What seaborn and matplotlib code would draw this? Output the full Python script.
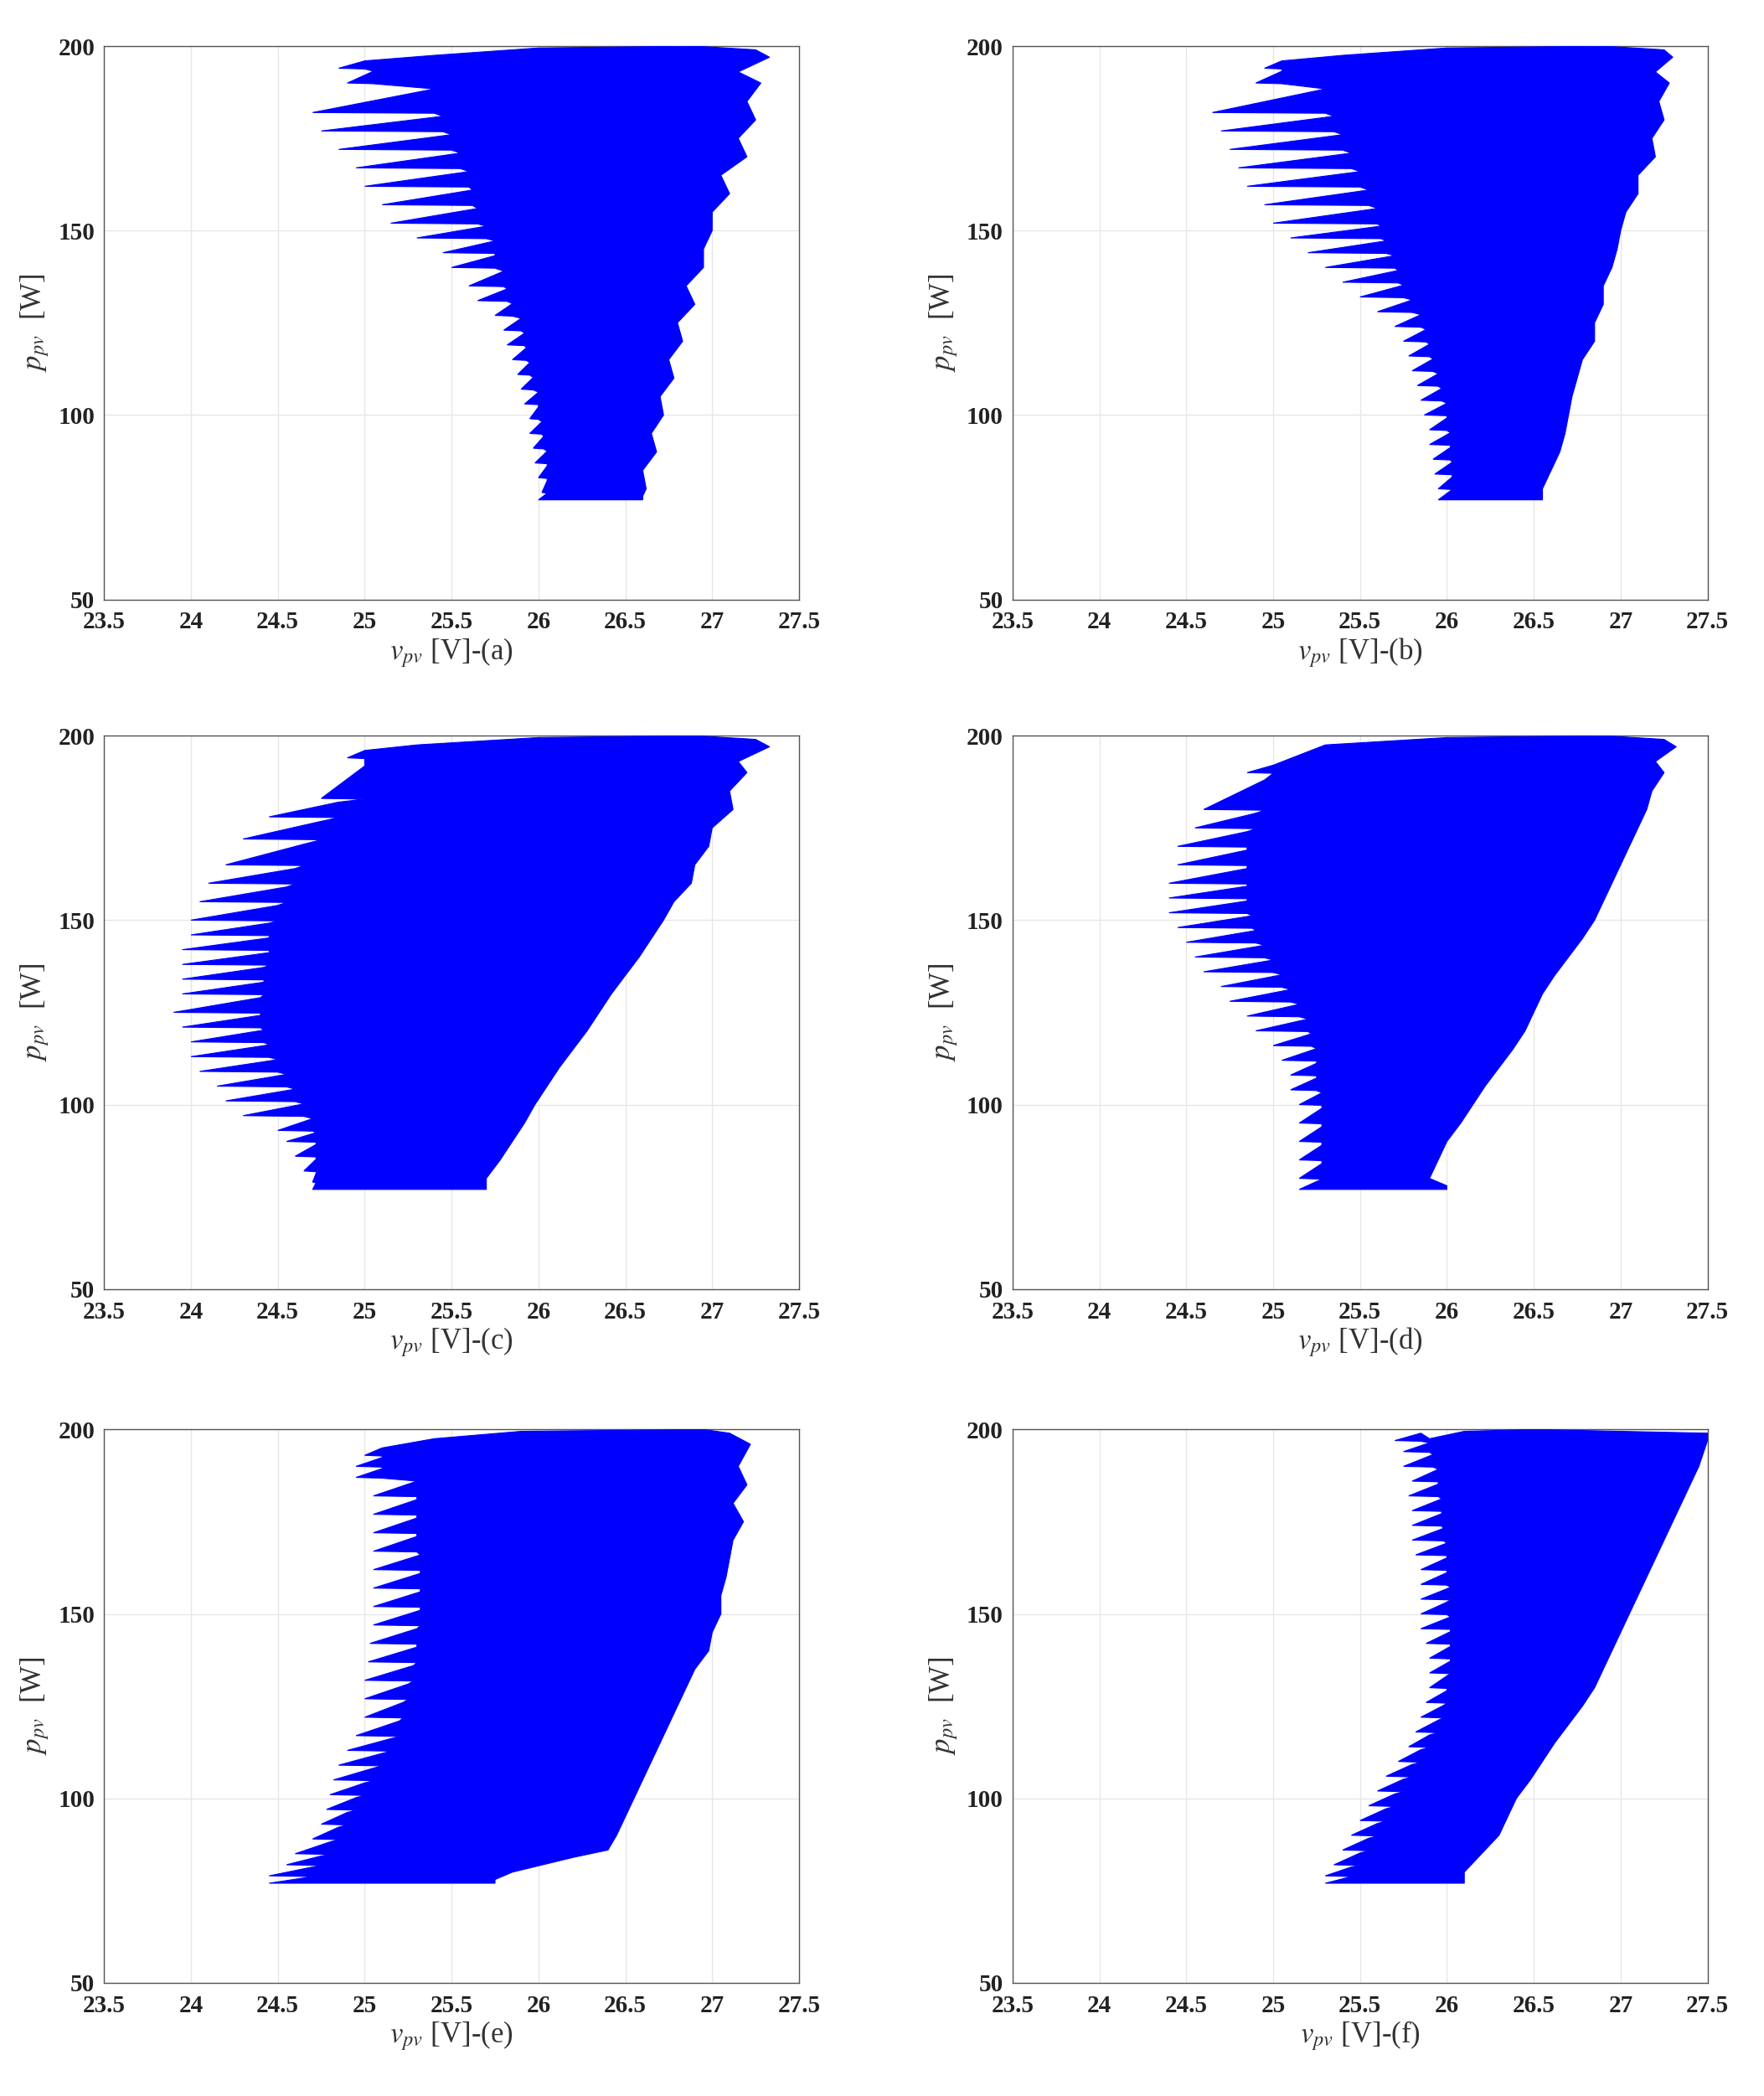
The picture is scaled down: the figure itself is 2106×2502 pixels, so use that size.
import numpy as np
import matplotlib
matplotlib.use("Agg")
import matplotlib.pyplot as plt
import seaborn as sns

sns.set_style("whitegrid")
plt.rcParams['font.family'] = ['Liberation Serif', 'DejaVu Serif']
plt.rcParams['mathtext.fontset'] = 'stix'

# ---- data: left-edge teeth (power, tip voltage, notch voltage), right edge (power, voltage), bottom span, top-left shoulder ----
a_lp = [194, 190, 182, 177, 172, 167, 162, 157, 152, 148, 144, 140, 135, 131, 127, 123, 119, 115, 111, 107, 103, 99, 95, 91, 87, 83, 79]
a_lt = [24.85, 24.9, 24.7, 24.75, 24.85, 24.95, 25.0, 25.1, 25.15, 25.3, 25.45, 25.5, 25.6, 25.65, 25.75, 25.8, 25.82, 25.85, 25.88, 25.9, 25.92, 25.95, 25.95, 25.97, 25.98, 26.0, 26.02]
a_ln = [25.0, 25.05, 25.4, 25.45, 25.5, 25.55, 25.6, 25.62, 25.65, 25.7, 25.75, 25.75, 25.8, 25.82, 25.85, 25.9, 25.92, 25.93, 25.95, 25.97, 26.0, 26.0, 26.02, 26.03, 26.05, 26.05, 26.05]
a_rp = [200, 199, 197, 193, 190, 185, 180, 175, 170, 165, 160, 155, 150, 145, 140, 135, 130, 125, 120, 115, 110, 105, 100, 95, 90, 85, 80, 78]
a_rx = [26.9, 27.25, 27.33, 27.15, 27.28, 27.2, 27.25, 27.15, 27.2, 27.05, 27.1, 27.0, 27.0, 26.95, 26.95, 26.85, 26.9, 26.8, 26.83, 26.75, 26.78, 26.7, 26.72, 26.65, 26.68, 26.6, 26.62, 26.6]
a_bot = [26.0, 26.6]
a_top = [25.4, 26.0]

b_lp = [194, 190, 182, 177, 172, 167, 162, 157, 152, 148, 144, 140, 136, 132, 128, 124, 120, 116, 112, 108, 104, 100, 96, 92, 88, 84, 80]
b_lt = [24.95, 24.9, 24.65, 24.7, 24.75, 24.8, 24.85, 24.95, 25.0, 25.1, 25.2, 25.3, 25.4, 25.5, 25.6, 25.7, 25.75, 25.78, 25.8, 25.83, 25.85, 25.87, 25.9, 25.9, 25.92, 25.93, 25.95]
b_ln = [25.05, 25.05, 25.3, 25.35, 25.4, 25.45, 25.5, 25.55, 25.6, 25.62, 25.65, 25.7, 25.72, 25.75, 25.8, 25.85, 25.88, 25.9, 25.92, 25.95, 25.97, 26.0, 26.0, 26.02, 26.02, 26.03, 26.03]
b_rp = [200, 199, 197, 193, 190, 185, 180, 175, 170, 165, 160, 155, 150, 145, 140, 135, 130, 125, 120, 115, 110, 105, 100, 95, 90, 85, 80, 78]
b_rx = [26.9, 27.25, 27.3, 27.2, 27.28, 27.22, 27.25, 27.18, 27.2, 27.1, 27.1, 27.03, 27.0, 26.98, 26.95, 26.9, 26.9, 26.85, 26.85, 26.78, 26.75, 26.72, 26.7, 26.68, 26.65, 26.6, 26.55, 26.55]
b_bot = [25.95, 26.55]
b_top = [25.4, 26.0]

c_lp = [194, 183, 178, 172, 165, 160, 155, 150, 146, 142, 138, 134, 130, 125, 121, 117, 113, 109, 105, 101, 97, 93, 90, 86, 82, 79]
c_lt = [24.9, 24.75, 24.45, 24.3, 24.2, 24.1, 24.05, 24.0, 24.0, 23.95, 23.95, 23.95, 23.95, 23.9, 23.95, 24.0, 24.0, 24.05, 24.15, 24.2, 24.3, 24.5, 24.55, 24.6, 24.65, 24.7]
c_ln = [25.0, 25.0, 24.85, 24.75, 24.65, 24.6, 24.55, 24.5, 24.45, 24.45, 24.45, 24.42, 24.42, 24.4, 24.4, 24.42, 24.45, 24.5, 24.55, 24.6, 24.65, 24.7, 24.72, 24.72, 24.72, 24.72]
c_rp = [200, 199, 197, 193, 190, 185, 180, 175, 170, 165, 160, 155, 150, 145, 140, 135, 130, 125, 120, 115, 110, 105, 100, 95, 90, 85, 80, 78]
c_rx = [26.9, 27.25, 27.33, 27.15, 27.2, 27.1, 27.12, 27.0, 26.98, 26.9, 26.88, 26.78, 26.72, 26.65, 26.58, 26.5, 26.42, 26.35, 26.28, 26.2, 26.12, 26.05, 25.98, 25.92, 25.85, 25.78, 25.7, 25.7]
c_bot = [24.7, 25.7]
c_top = [25.3, 26.0]

d_lp = [190, 180, 175, 170, 165, 160, 156, 152, 148, 144, 140, 136, 132, 128, 124, 120, 116, 112, 108, 104, 100, 95, 90, 85, 80]
d_lt = [24.85, 24.6, 24.55, 24.45, 24.45, 24.4, 24.4, 24.4, 24.45, 24.5, 24.55, 24.6, 24.7, 24.75, 24.85, 24.9, 25.0, 25.05, 25.1, 25.1, 25.15, 25.15, 25.15, 25.15, 25.15]
d_ln = [25.0, 24.95, 24.9, 24.85, 24.85, 24.85, 24.85, 24.85, 24.88, 24.9, 24.95, 25.0, 25.05, 25.1, 25.15, 25.2, 25.22, 25.25, 25.25, 25.25, 25.28, 25.28, 25.28, 25.28, 25.28]
d_rp = [200, 199, 197, 193, 190, 185, 180, 175, 170, 165, 160, 155, 150, 145, 140, 135, 130, 125, 120, 115, 110, 105, 100, 95, 90, 85, 80, 78]
d_rx = [26.9, 27.25, 27.32, 27.2, 27.25, 27.18, 27.15, 27.1, 27.05, 27.0, 26.95, 26.9, 26.85, 26.78, 26.7, 26.62, 26.55, 26.5, 26.45, 26.38, 26.3, 26.22, 26.15, 26.08, 26.0, 25.95, 25.9, 26.0]
d_bot = [25.15, 26.0]
d_top = [25.3, 26.0]

e_lp = [193, 190, 187, 182, 177, 172, 167, 162, 157, 152, 147, 142, 137, 132, 127, 122, 117, 113, 109, 105, 101, 97, 93, 89, 85, 82, 79]
e_lt = [25.0, 24.95, 24.95, 25.05, 25.05, 25.05, 25.05, 25.05, 25.05, 25.05, 25.05, 25.03, 25.02, 25.0, 25.0, 25.0, 24.95, 24.9, 24.85, 24.82, 24.8, 24.78, 24.75, 24.7, 24.6, 24.55, 24.45]
e_ln = [25.1, 25.1, 25.1, 25.3, 25.3, 25.3, 25.3, 25.32, 25.32, 25.32, 25.32, 25.3, 25.3, 25.28, 25.25, 25.22, 25.2, 25.15, 25.1, 25.05, 25.0, 24.95, 24.9, 24.85, 24.8, 24.75, 24.7]
e_rp = [200, 199, 196, 190, 185, 180, 175, 170, 165, 160, 155, 150, 145, 140, 135, 130, 125, 120, 115, 110, 105, 100, 95, 90, 86, 84, 80, 78]
e_rx = [26.95, 27.1, 27.22, 27.15, 27.2, 27.12, 27.18, 27.12, 27.1, 27.08, 27.05, 27.05, 27.0, 26.98, 26.9, 26.85, 26.8, 26.75, 26.7, 26.65, 26.6, 26.55, 26.5, 26.45, 26.4, 26.2, 25.85, 25.75]
e_bot = [24.45, 25.75]
e_top = [25.4, 25.9]

f_lp = [197, 194, 190, 186, 182, 178, 174, 170, 166, 162, 158, 154, 150, 146, 142, 138, 134, 130, 126, 122, 118, 114, 110, 106, 102, 98, 94, 90, 86, 82, 79]
f_lt = [25.7, 25.75, 25.75, 25.8, 25.78, 25.8, 25.8, 25.8, 25.82, 25.85, 25.85, 25.85, 25.85, 25.85, 25.88, 25.9, 25.9, 25.9, 25.88, 25.85, 25.82, 25.78, 25.72, 25.65, 25.6, 25.55, 25.5, 25.45, 25.4, 25.35, 25.3]
f_ln = [25.85, 25.9, 25.92, 25.95, 25.95, 25.97, 25.97, 25.98, 26.0, 26.0, 26.0, 26.02, 26.0, 26.02, 26.02, 26.02, 26.02, 26.0, 26.0, 25.98, 25.95, 25.9, 25.85, 25.8, 25.75, 25.7, 25.65, 25.6, 25.55, 25.5, 25.45]
f_rp = [200, 199, 197, 190, 185, 180, 175, 170, 165, 160, 155, 150, 145, 140, 135, 130, 125, 120, 115, 110, 105, 100, 95, 90, 85, 80, 78]
f_rx = [26.5, 27.5, 27.5, 27.45, 27.4, 27.35, 27.3, 27.25, 27.2, 27.15, 27.1, 27.05, 27.0, 26.95, 26.9, 26.85, 26.78, 26.7, 26.62, 26.55, 26.48, 26.4, 26.35, 26.3, 26.2, 26.1, 26.1]
f_bot = [25.3, 26.1]
f_top = [25.9, 26.1]

panels = [
    ("a", a_lp, a_lt, a_ln, a_rp, a_rx, a_bot, a_top),
    ("b", b_lp, b_lt, b_ln, b_rp, b_rx, b_bot, b_top),
    ("c", c_lp, c_lt, c_ln, c_rp, c_rx, c_bot, c_top),
    ("d", d_lp, d_lt, d_ln, d_rp, d_rx, d_bot, d_top),
    ("e", e_lp, e_lt, e_ln, e_rp, e_rx, e_bot, e_top),
    ("f", f_lp, f_lt, f_ln, f_rp, f_rx, f_bot, f_top),
]
P_BOTTOM = 77
TOP_P = [197.5, 199.5]

fig = plt.figure(figsize=(21.06, 25.02), dpi=100)
lefts = [0.059, 0.574]
tops = [0.978, 0.649, 0.318]
w, h = 0.394, 0.264

for i, (lab, lp, lt, ln, rp, rx, bot, top) in enumerate(panels):
    ax = fig.add_axes([lefts[i % 2], tops[i // 2] - h, w, h])
    xs = list(rx) + [bot[1], bot[0]]
    ys = list(rp) + [P_BOTTOM, P_BOTTOM]
    for k in range(len(lp) - 1, -1, -1):
        nxt = lp[k - 1] if k > 0 else lp[0] + 2.5
        gap = nxt - lp[k]
        xs += [ln[k], lt[k], ln[k]]
        ys += [lp[k] - 0.2, lp[k], lp[k] + gap * 0.8]
    xs += [top[0], top[1], rx[0]]
    ys += [TOP_P[0], TOP_P[1], 200]
    ax.fill(xs, ys, color="#0000ff", lw=0.8, ec="#0000ff", zorder=3)
    ax.set_xlim(23.5, 27.5)
    ax.set_ylim(50, 200)
    ax.set_xticks([23.5, 24, 24.5, 25, 25.5, 26, 26.5, 27, 27.5])
    ax.set_xticklabels(["23.5", "24", "24.5", "25", "25.5", "26", "26.5", "27", "27.5"])
    ax.set_yticks([50, 100, 150, 200])
    ax.grid(True, color="#e6e6e6", lw=1.0)
    for s in ax.spines.values():
        s.set_color("#555555")
        s.set_linewidth(1.0)
    ax.tick_params(axis="x", pad=10)
    ax.tick_params(axis="y", pad=8)
    ax.tick_params(axis="both", labelsize=21, direction="in", length=6, colors="#222222")
    for t in ax.get_xticklabels() + ax.get_yticklabels():
        t.set_fontweight("bold")
    ax.set_xlabel(r"$v_{pv}$ [V]-(" + lab + ")", fontsize=25, color="#333333", labelpad=2)
    ax.set_ylabel(r"$p_{pv}$  [W]", fontsize=25, color="#333333", labelpad=6)

fig.savefig("out.png", dpi=100)
